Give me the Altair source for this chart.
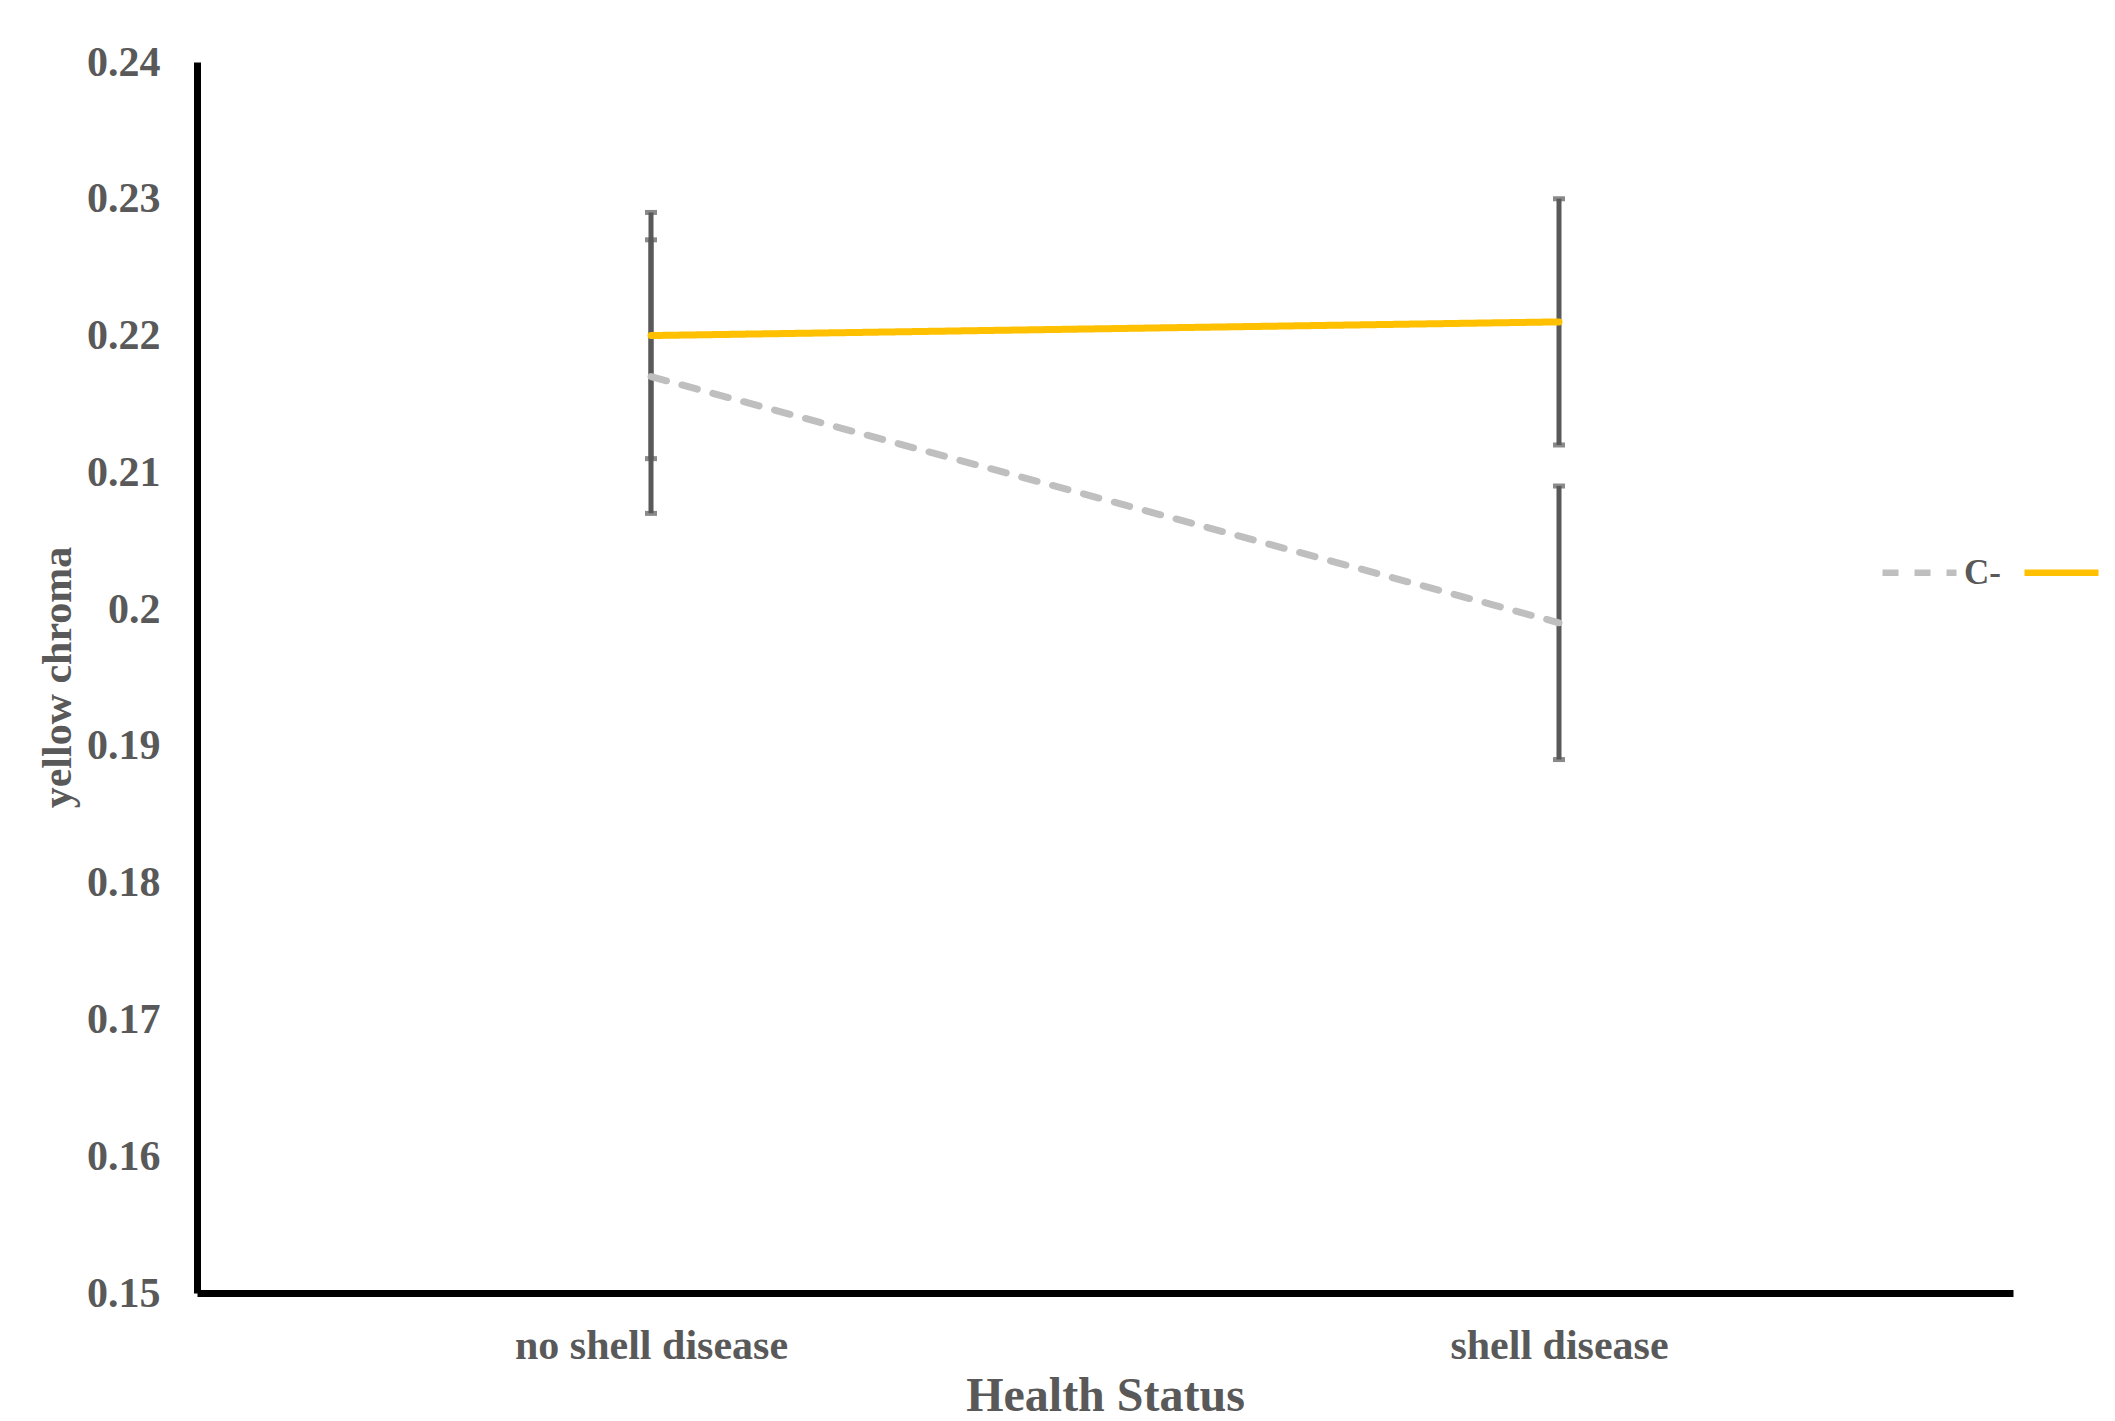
import altair as alt
import pandas as pd

status = ["no shell disease", "shell disease"]
series = ["C-", "C+"]
c_minus_mean = [0.217, 0.199]
c_minus_err = [0.010, 0.010]
c_plus_mean = [0.220, 0.221]
c_plus_err = [0.009, 0.009]
y_ticks = [0.15, 0.16, 0.17, 0.18, 0.19, 0.20, 0.21, 0.22, 0.23, 0.24]

rows = []
for s, means, errs in [("C-", c_minus_mean, c_minus_err), ("C+", c_plus_mean, c_plus_err)]:
    for st, m, e in zip(status, means, errs):
        rows.append({"status": st, "series": s, "mean": m, "lo": round(m - e, 4), "hi": round(m + e, 4)})
df = pd.DataFrame(rows)

FONT = "Liberation Serif"
TXT = "#595959"

xscale = alt.Scale(type="point", padding=0.5, domain=status)
yscale = alt.Scale(domain=[0.15, 0.24], nice=False, zero=False)

x_axis = alt.Axis(
    title="Health Status", labelAngle=0, ticks=False, tickSize=0, grid=False,
    domainColor="black", domainWidth=7, labelLimit=600,
    labelFont=FONT, labelFontWeight="bold", labelFontSize=42, labelColor=TXT,
    labelBaseline="alphabetic", labelPadding=65,
    titleFont=FONT, titleFontWeight="bold", titleFontSize=48, titleColor=TXT,
    titleBaseline="alphabetic", titleY=117,
)
y_axis = alt.Axis(
    title="yellow chroma", values=y_ticks, format=".2~f", ticks=False, tickSize=0, grid=False,
    domainColor="black", domainWidth=7, labelLimit=600,
    labelFont=FONT, labelFontWeight="bold", labelFontSize=42, labelColor=TXT, labelPadding=37,
    titleFont=FONT, titleFontWeight="bold", titleFontSize=42, titleColor=TXT,
    titleBaseline="alphabetic", titleX=-127, titleY=615, titleAngle=270,
)

legend = alt.Legend(
    title=None, orient="none", legendX=1682, legendY=470, direction="horizontal",
    symbolType="stroke", symbolSize=5476, symbolStrokeWidth=6.5,
    labelFont=FONT, labelFontWeight="bold", labelFontSize=35, labelColor=TXT,
    labelOffset=4, columnPadding=10, padding=0, labelLimit=600,
)

base = alt.Chart(df)

bars = base.mark_rule(color="#595959", strokeWidth=5).encode(
    x=alt.X("status:N", scale=xscale, axis=x_axis),
    y=alt.Y("lo:Q", scale=yscale, axis=y_axis),
    y2="hi:Q",
)
caps = base.transform_fold(["lo", "hi"], as_=["k", "v"]).mark_tick(
    color="#595959", thickness=5, size=12
).encode(
    x=alt.X("status:N", scale=xscale),
    y=alt.Y("v:Q", scale=yscale),
)
lines = base.mark_line(strokeWidth=7, strokeCap="round").encode(
    x=alt.X("status:N", scale=xscale),
    y=alt.Y("mean:Q", scale=yscale),
    color=alt.Color("series:N", scale=alt.Scale(domain=series, range=["#BFBFBF", "#FFC000"]), legend=legend),
    strokeDash=alt.StrokeDash("series:N", scale=alt.Scale(domain=series, range=[[16, 16], [1, 0]]), legend=legend),
    order=alt.Order("status:N"),
)

chart = alt.layer(bars, caps, lines).properties(
    width=1816, height=1231,
    autosize=alt.AutoSizeParams(type="none"),
    padding={"left": 189, "top": 54, "right": 94, "bottom": 120},
    background="white",
).configure_view(stroke=None)

chart.save("out.html", embed_options={"renderer": "svg", "actions": False})
